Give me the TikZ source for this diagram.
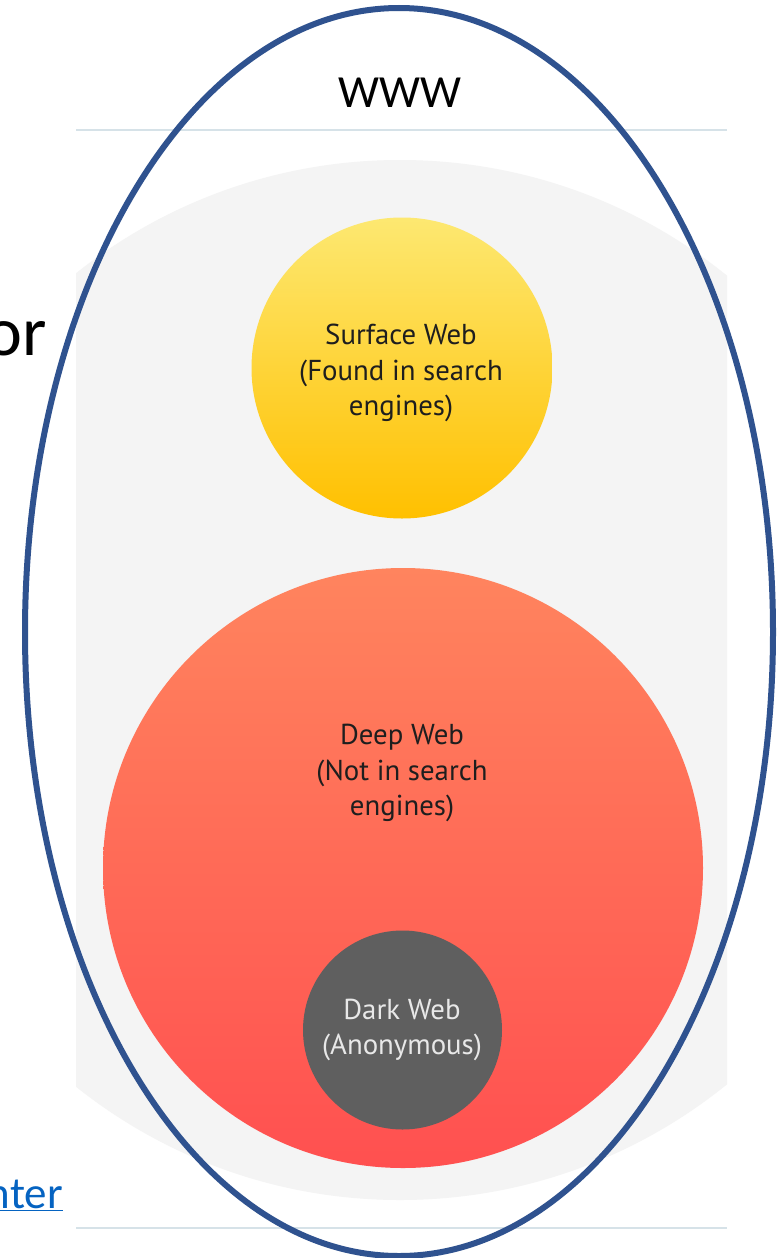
\documentclass[tikz,border=0pt]{standalone}
\usepackage{fontspec}
\setmainfont{Carlito}
\newfontfamily\labfont{PT Sans}
\usetikzlibrary{shapes.geometric}
\definecolor{wwwblue}{HTML}{2F528F}
\definecolor{bggrey}{HTML}{F4F4F4}
\definecolor{rulec}{HTML}{D6E2E8}
\definecolor{ytop}{HTML}{FDE871}
\definecolor{ybot}{HTML}{FFC000}
\definecolor{rtop}{HTML}{FF845E}
\definecolor{rbot}{HTML}{FF5050}
\definecolor{darkc}{HTML}{5F5F5F}
\definecolor{linkc}{HTML}{0563C1}
\definecolor{labtext}{HTML}{1E1E1E}
\definecolor{darktext}{HTML}{E8E8E8}
\tikzset{
  bubble/.style={circle, inner sep=0pt, draw=none},
  lab/.style={align=center, inner sep=0pt, font=\labfont\fontsize{28.8}{35.5}\selectfont, text=labtext},
  rulebar/.style={draw=rulec, line width=2pt},
}
\begin{document}
\begin{tikzpicture}[x=1pt, y=-1pt]
\useasboundingbox (0,0) rectangle (782,1258);
\fill[white] (0,0) rectangle (782,1258);
% grey background disc clipped to the slide column
\begin{scope}
  \clip (76,0) rectangle (727,1258);
  \fill[bggrey] (400,680) circle (520pt);
\end{scope}
% rules
\coordinate (r1a) at (76,130); \coordinate (r1b) at (727,130);
\coordinate (r2a) at (76,1228); \coordinate (r2b) at (727,1228);
\draw[rulebar] (r1a) -- (r1b);
\draw[rulebar] (r2a) -- (r2b);
% circles
\node[bubble, minimum size=301pt, top color=ytop, bottom color=ybot] (surface) at (402,368) {};
\node[bubble, minimum size=600pt, top color=rtop, bottom color=rbot] (deep) at (403,868) {};
\node[bubble, minimum size=199pt, fill=darkc] (dark) at (402.5,1030) {};
% labels
\node[lab] (surfacelab) at (401,373) {Surface Web\\(Found in search\\engines)};
\node[lab] (deeplab) at (402,773) {Deep Web\\(Not in search\\engines)};
\node[lab, text=darktext] (darklab) at (402,1030) {Dark Web\\(Anonymous)};
% WWW
\node[font=\fontsize{46}{50}\selectfont, inner sep=0pt, anchor=base] (www) at (400,107) {WWW};
% cut-off slide text
\node[font=\fontsize{70}{80}\selectfont, inner sep=0pt, anchor=base east] (orword) at (47,355) {or};
\node[font=\fontsize{45}{50}\selectfont, inner sep=0pt, anchor=base east, text=linkc] (linkword) at (63,1208) {\underline{nter}};
% blue ellipse
\draw[wwwblue, line width=6pt] (399,632) ellipse (374pt and 624pt);
\end{tikzpicture}
\end{document}
